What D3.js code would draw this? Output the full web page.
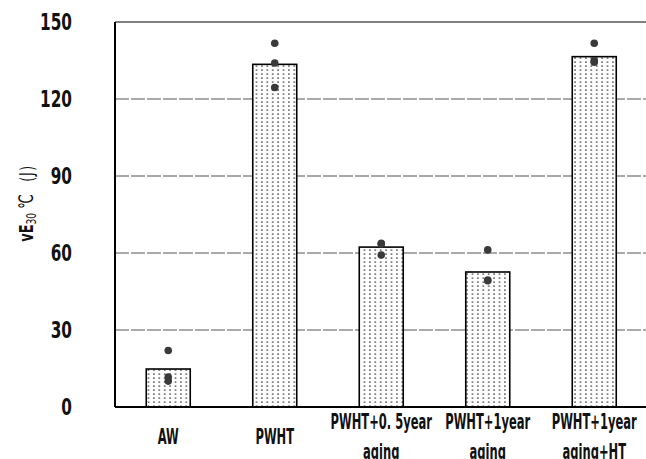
<!DOCTYPE html>
<html>
<head>
<meta charset="utf-8">
<script src="https://cdn.jsdelivr.net/npm/d3@7"></script>
<style>
  html, body { margin: 0; padding: 0; background: #fff; overflow: hidden; }
  svg { display: block; }
  .narrow { font-family: "DejaVu Sans Condensed", "DejaVu Sans", sans-serif; font-weight: bold; }
</style>
</head>
<body>
<svg id="chart" width="646" height="459"></svg>
<script>
// Impact energy at 30 °C for each treatment condition
const categories = ["AW", "PWHT", "PWHT+0. 5year|aging", "PWHT+1year|aging", "PWHT+1year|aging+HT"];
const meanValues = [14.8, 133.5, 62.3, 52.6, 136.5];
const specimenValues = [
  [22, 11.7, 10.1],
  [141.7, 134, 124.5],
  [63.8, 63.5, 59.2],
  [61.2, 49.5, 49.2],
  [141.7, 134.3, 135]
];
const yTicks = [0, 30, 60, 90, 120, 150];
const gridTicks = [30, 60, 90, 120];

const svg = d3.select("#chart");
const plotLeft = 115, plotTop = 22, plotBottom = 407, plotRight = 647.5;

const x = d3.scaleBand().domain(categories).range([plotLeft, plotRight])
  .paddingInner(0.587).paddingOuter(0.2935);
const y = d3.scaleLinear().domain([0, 150]).range([plotBottom, plotTop]);

// dotted bar fill
const defs = svg.append("defs");
const pat = defs.append("pattern").attr("id", "dots")
  .attr("patternUnits", "userSpaceOnUse").attr("width", 5.4).attr("height", 4)
  .attr("x", 0).attr("y", 0);
pat.append("rect").attr("width", 5.4).attr("height", 4).attr("fill", "#fff");
pat.append("rect").attr("x", 2).attr("y", 1.4).attr("width", 1.4).attr("height", 1.4).attr("fill", "#333");

// grid lines
svg.append("g").selectAll("line").data(gridTicks).join("line")
  .attr("x1", plotLeft).attr("x2", 646)
  .attr("y1", d => y(d)).attr("y2", d => y(d))
  .attr("stroke", "#555").attr("stroke-width", 1)
  .attr("stroke-dasharray", "14,2");

// top frame line
svg.append("line").attr("x1", plotLeft).attr("x2", 646).attr("y1", y(150)).attr("y2", y(150))
  .attr("stroke", "#000").attr("stroke-width", 1.2);

// bars
svg.append("g").selectAll("rect").data(categories).join("rect")
  .attr("x", d => x(d)).attr("width", x.bandwidth())
  .attr("y", (d, i) => y(meanValues[i]))
  .attr("height", (d, i) => y(0) - y(meanValues[i]))
  .attr("fill", "url(#dots)").attr("stroke", "#000").attr("stroke-width", 1.6);

// individual specimen results
const pts = [];
categories.forEach((c, i) => specimenValues[i].forEach(v => pts.push({ c, v })));
svg.append("g").selectAll("circle").data(pts).join("circle")
  .attr("cx", d => x(d.c) + x.bandwidth() / 2)
  .attr("cy", d => y(d.v)).attr("r", 3.8)
  .attr("fill", "#3a3a3a");

// axes lines
svg.append("line").attr("x1", plotLeft).attr("x2", plotLeft).attr("y1", plotTop).attr("y2", plotBottom)
  .attr("stroke", "#000").attr("stroke-width", 2);
svg.append("line").attr("x1", plotLeft).attr("x2", 646).attr("y1", plotBottom).attr("y2", plotBottom)
  .attr("stroke", "#000").attr("stroke-width", 2);

// y tick labels (compressed horizontally)
svg.append("g").selectAll("text").data(yTicks).join("text")
  .attr("class", "narrow")
  .attr("transform", d => `translate(72,${y(d)}) scale(0.74,1)`)
  .attr("dy", "0.36em")
  .attr("text-anchor", "end").attr("font-size", 23).attr("fill", "#111")
  .text(d => d);

// x category labels (compressed horizontally)
const xl = svg.append("g").selectAll("g").data(categories).join("g")
  .attr("transform", d => {
    const cx = x(d) + x.bandwidth() / 2;
    const lines = d.split("|").length;
    const by = lines > 1 ? 429 : 444;
    return `translate(${cx},${by}) scale(0.61,1)`;
  });
xl.each(function (d) {
  const lines = d.split("|");
  d3.select(this).selectAll("text").data(lines).join("text")
    .attr("class", "narrow").attr("font-size", 21).attr("fill", "#111")
    .attr("text-anchor", "middle").attr("y", (t, j) => j * 30)
    .text(t => t);
});

// y axis title (compressed along its run)
const yt = svg.append("text").attr("class", "narrow").attr("font-size", 20).attr("fill", "#111")
  .attr("text-anchor", "middle")
  .attr("transform", "translate(33,200) rotate(-90) scale(0.72,1)");
yt.append("tspan").text("vE");
yt.append("tspan").attr("font-size", 14).attr("font-weight", "normal").attr("dy", 3).text("30");
yt.append("tspan").attr("dy", -3).attr("font-weight", "normal").text(" \u2103 \uFF08J\uFF09");
</script>
</body>
</html>
